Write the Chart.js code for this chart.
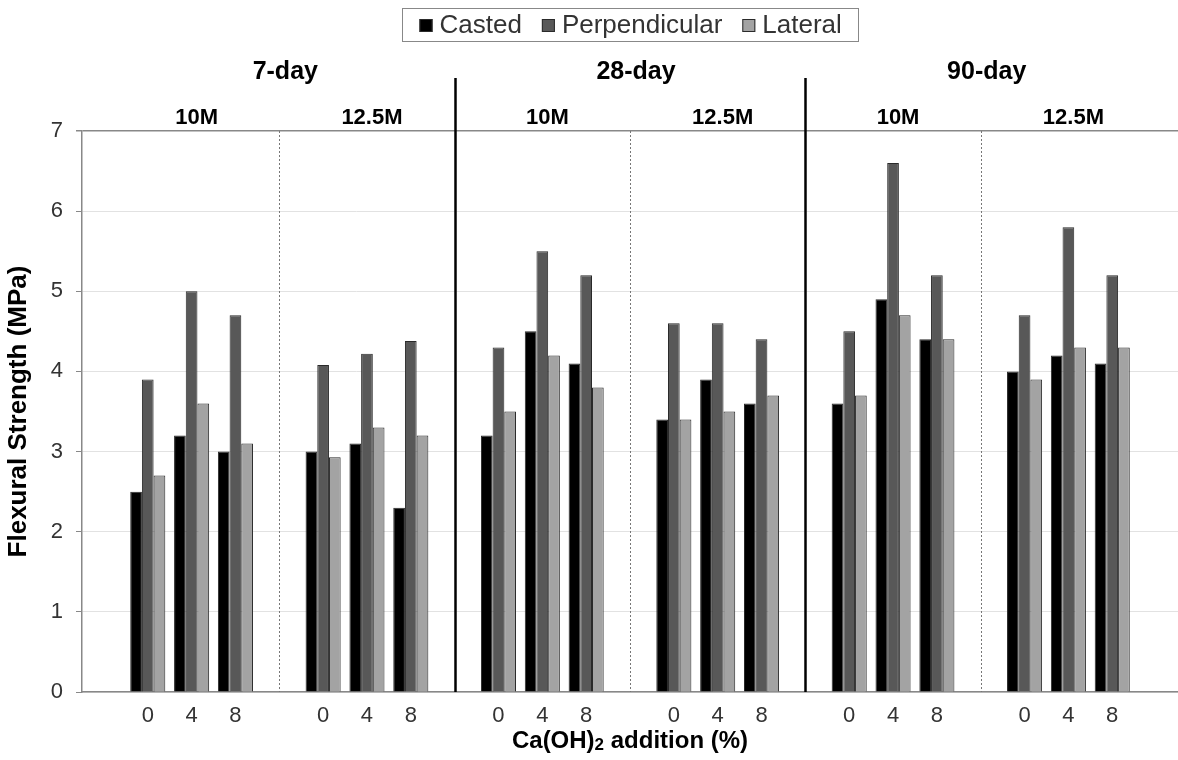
<!DOCTYPE html>
<html>
<head>
<meta charset="utf-8">
<script src="https://cdn.jsdelivr.net/npm/chart.js@4.4.1/dist/chart.umd.min.js"></script>
<style>
  html, body { margin: 0; padding: 0; background: #fff; }
  #wrap { width: 1178px; height: 760px; position: relative; }
</style>
</head>
<body>
<div id="wrap"><canvas id="chart"></canvas></div>
<script>
// Ca(OH)2 addition levels, per molarity, per curing age
const additions = ["0", "4", "8"];
const ages = ["7-day", "28-day", "90-day"];
const molarities = ["10M", "12.5M"];
const seriesNames = ["Casted", "Perpendicular", "Lateral"];
const seriesColors = ["#000000", "#585858", "#a3a3a3"];

// values in order: 7d-10M, 7d-12.5M, 28d-10M, 28d-12.5M, 90d-10M, 90d-12.5M (0, 4, 8 each)
const casted = [2.5, 3.2, 3.0, 3.0, 3.1, 2.3, 3.2, 4.5, 4.1, 3.4, 3.9, 3.6, 3.6, 4.9, 4.4, 4.0, 4.2, 4.1];
const perpendicular = [3.9, 5.0, 4.7, 4.08, 4.22, 4.38, 4.3, 5.5, 5.2, 4.6, 4.6, 4.4, 4.5, 6.6, 5.2, 4.7, 5.8, 5.2];
const lateral = [2.7, 3.6, 3.1, 2.93, 3.3, 3.2, 3.5, 4.2, 3.8, 3.4, 3.5, 3.7, 3.7, 4.7, 4.4, 3.9, 4.3, 4.3];
const yTicks = [0, 1, 2, 3, 4, 5, 6, 7];

// 一つの空カテゴリで各グループを区切る
const groupCount = ages.length * molarities.length;
const labels = [];
const expand = vals => {
  const out = [];
  for (let g = 0; g < groupCount; g++) {
    out.push(null);
    additions.forEach((a, i) => out.push(vals[g * 3 + i]));
  }
  out.push(null);
  return out;
};
for (let g = 0; g < groupCount; g++) {
  labels.push("");
  additions.forEach(a => labels.push(a));
}
labels.push("");

const allValues = [casted, perpendicular, lateral];
const datasets = seriesNames.map((name, i) => ({
  label: name,
  data: expand(allValues[i]),
  backgroundColor: seriesColors[i],
  borderColor: "#2a2a2a",
  borderWidth: 1,
  categoryPercentage: 0.8,
  barPercentage: 1.0
}));

const FONT = "'Liberation Sans', Arial, sans-serif";

// 区切り線・見出し・凡例・x軸タイトル
const decorPlugin = {
  id: "decor",
  afterDraw(chart) {
    const { ctx, chartArea } = chart;
    const x = chart.scales.x;
    ctx.save();

    // separators
    for (let g = 1; g < groupCount; g++) {
      const px = Math.round(x.getPixelForValue(g * 4)) + 0.5;
      ctx.beginPath();
      if (g % 2 === 1) {
        ctx.setLineDash([2, 2]);
        ctx.strokeStyle = "#777";
        ctx.lineWidth = 1;
        ctx.moveTo(px, chartArea.top);
      } else {
        ctx.setLineDash([]);
        ctx.strokeStyle = "#000";
        ctx.lineWidth = 2.5;
        ctx.moveTo(px, 78);
      }
      ctx.lineTo(px, chartArea.bottom);
      ctx.stroke();
    }
    ctx.setLineDash([]);

    // headers
    ctx.fillStyle = "#000";
    ctx.textAlign = "center";
    ctx.textBaseline = "middle";
    ctx.font = "bold 25px " + FONT;
    ages.forEach((age, a) => {
      ctx.fillText(age, x.getPixelForValue(4 + a * 8) + 6, 72);
    });
    ctx.font = "bold 22px " + FONT;
    for (let g = 0; g < groupCount; g++) {
      ctx.fillText(molarities[g % 2], x.getPixelForValue(2 + g * 4) + 5, 118);
    }

    // x axis title with subscript
    const cx = (chartArea.left + chartArea.right) / 2;
    const ty = 741;
    const parts = [
      { t: "Ca(OH)", f: "bold 24px " + FONT, dy: 0 },
      { t: "2", f: "bold 17px " + FONT, dy: 4 },
      { t: " addition (%)", f: "bold 24px " + FONT, dy: 0 }
    ];
    let total = 0;
    parts.forEach(p => { ctx.font = p.f; p.w = ctx.measureText(p.t).width; total += p.w; });
    let tx = cx - total / 2;
    ctx.textAlign = "left";
    parts.forEach(p => { ctx.font = p.f; ctx.fillText(p.t, tx, ty + p.dy); tx += p.w; });

    // legend
    ctx.font = "26px " + FONT;
    const box = 13, gapText = 7, gapItem = 20, padX = 17;
    const widths = seriesNames.map(n => ctx.measureText(n).width);
    const inner = widths.reduce((s, w) => s + box + gapText + w, 0) + gapItem * (seriesNames.length - 1);
    const lw = inner + padX * 2;
    const lx = Math.round(cx - lw / 2) + 0.5;
    ctx.strokeStyle = "#888";
    ctx.lineWidth = 1;
    ctx.strokeRect(lx, 8.5, Math.round(lw), 33);
    let ix = lx + padX;
    seriesNames.forEach((n, i) => {
      ctx.fillStyle = seriesColors[i];
      ctx.fillRect(ix, 19, box, box);
      ctx.strokeStyle = "#2a2a2a";
      ctx.strokeRect(ix + 0.5, 19.5, box - 1, box - 1);
      ctx.fillStyle = "#333";
      ctx.fillText(n, ix + box + gapText, 26);
      ix += box + gapText + widths[i] + gapItem;
    });

    ctx.restore();
  }
};

new Chart(document.getElementById("chart"), {
  type: "bar",
  data: { labels: labels, datasets: datasets },
  options: {
    responsive: true,
    maintainAspectRatio: false,
    animation: false,
    layout: { padding: { top: 131, left: 0, right: 0, bottom: 0 } },
    plugins: {
      legend: { display: false },
      tooltip: { enabled: false }
    },
    scales: {
      x: {
        grid: { display: false, drawTicks: false },
        border: { display: true, color: "#888", width: 1.5 },
        ticks: {
          color: "#333",
          font: { family: FONT, size: 22 },
          padding: 11,
          autoSkip: false,
          maxRotation: 0
        },
        afterFit: scale => { scale.height = 68; }
      },
      y: {
        min: 0,
        max: 7,
        afterBuildTicks: scale => { scale.ticks = yTicks.map(v => ({ value: v })); },
        grid: {
          color: c => c.tick && c.tick.value === 7 ? "#888" : "#e2e2e2",
          lineWidth: c => c.tick && c.tick.value === 7 ? 1.5 : 1,
          tickColor: "#888",
          tickLength: 6
        },
        border: { display: true, color: "#888", width: 1.5 },
        ticks: {
          color: "#333",
          font: { family: FONT, size: 22 },
          padding: 13
        },
        title: {
          display: true,
          text: "Flexural Strength (MPa)",
          color: "#000",
          font: { family: FONT, size: 26, weight: "bold" },
          padding: { top: 3, bottom: 3 }
        },
        afterFit: scale => { scale.width = 82; }
      }
    }
  },
  plugins: [decorPlugin]
});
</script>
</body>
</html>
